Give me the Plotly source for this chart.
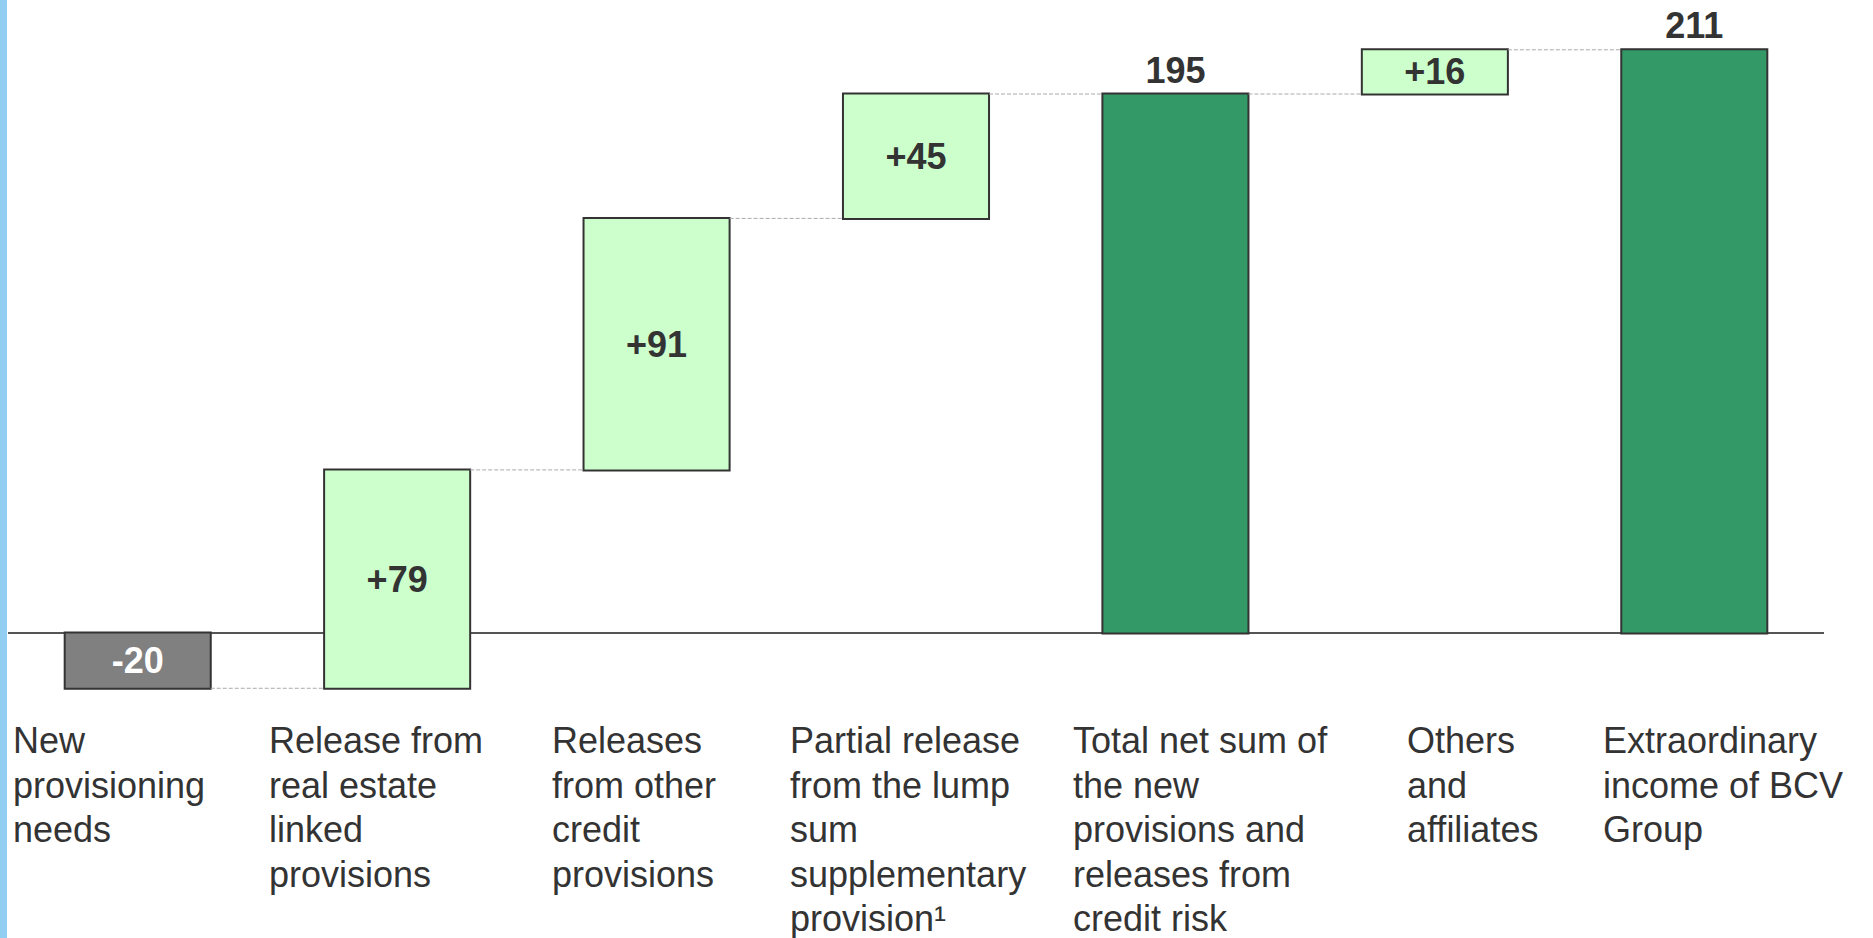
import plotly.graph_objects as go

# ---- data ----
categories = [
    "New<br>provisioning<br>needs",
    "Release from<br>real estate<br>linked<br>provisions",
    "Releases<br>from other<br>credit<br>provisions",
    "Partial release<br>from the lump<br>sum<br>supplementary<br>provision¹",
    "Total net sum of<br>the new<br>provisions and<br>releases from<br>credit risk",
    "Others<br>and<br>affiliates",
    "Extraordinary<br>income of BCV<br>Group",
]
values = [-20, 79, 91, 45, 195, 16, 211]
measures = ["relative", "relative", "relative", "relative", "total", "relative", "total"]

# ---- layout helpers (not data) ----
label_dx = [-0.488, -0.500, -0.411, -0.494, -0.404, -0.117, -0.360]
W, H = 1873, 938
ML, MR = 8, 49
Y0_PX, PX_PER_UNIT = 633, 2.764
y_top = Y0_PX / PX_PER_UNIT
y_bot = -(H - Y0_PX) / PX_PER_UNIT
LINE_PX = 44.5
FIRST_LINE_Y = -30.8
FONT = "Arial, Liberation Sans, sans-serif"

texts = []
text_pos = []
text_col = []
for v, m in zip(values, measures):
    if m == "total":
        texts.append(f"{v}")
        text_pos.append("outside")
        text_col.append("#333333")
    else:
        texts.append(f"{v:+d}")
        text_pos.append("inside")
        text_col.append("#ffffff" if v < 0 else "#333333")

x_idx = list(range(len(categories)))

fig = go.Figure()
fig.add_trace(go.Waterfall(
    x=x_idx,
    y=values,
    measure=measures,
    text=texts,
    textposition=text_pos,
    insidetextanchor="middle",
    textfont=dict(family=FONT, size=36, color=text_col),
    texttemplate="<b>%{text}</b>",
    constraintext="none",
    cliponaxis=False,
    width=0.563,
    increasing=dict(marker=dict(color="#CCFFCC", line=dict(color="#333333", width=2))),
    decreasing=dict(marker=dict(color="#808080", line=dict(color="#333333", width=2))),
    totals=dict(marker=dict(color="#339966", line=dict(color="#333333", width=2))),
    connector=dict(mode="between", line=dict(color="#aaaaaa", width=1, dash="4px,2px")),
    hoverinfo="skip",
))

# baseline
fig.add_shape(type="line", xref="paper", yref="y", x0=0, x1=1, y0=0, y1=0,
              line=dict(color="#555555", width=2), layer="below")
# left blue stripe
fig.add_shape(type="rect", xref="paper", yref="paper",
              x0=-ML / (W - ML - MR), x1=(7 - ML) / (W - ML - MR), y0=0, y1=1,
              fillcolor="#92CEF2", line=dict(width=0), layer="above")

for i, (c, dx) in enumerate(zip(categories, label_dx)):
    for k, line in enumerate(c.split("<br>")):
        fig.add_annotation(x=i + dx, y=FIRST_LINE_Y - k * LINE_PX / PX_PER_UNIT,
                           xref="x", yref="y", text=line,
                           xanchor="left", yanchor="top", align="left", showarrow=False,
                           font=dict(family=FONT, size=36, color="#333333"))

fig.update_layout(
    width=W, height=H,
    margin=dict(l=ML, r=MR, t=0, b=0),
    paper_bgcolor="white", plot_bgcolor="white",
    showlegend=False,
    xaxis=dict(visible=False, range=[-0.5, len(categories) - 0.5]),
    yaxis=dict(visible=False, range=[y_bot, y_top]),
    hovermode=False,
)

fig.write_html("out.html")
